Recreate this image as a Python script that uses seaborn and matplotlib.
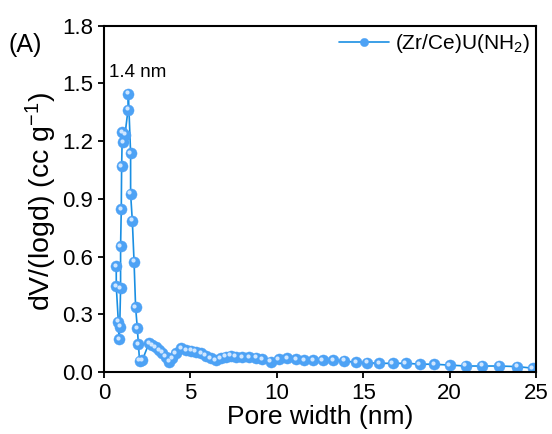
import matplotlib
matplotlib.use("Agg")
import matplotlib.pyplot as plt
import seaborn as sns
import pandas as pd

pore_width = [0.71, 0.71, 0.83, 0.87, 0.91, 0.96, 0.96, 1.00, 1.02, 1.06, 1.12, 1.215,
              1.39, 1.41, 1.54, 1.54, 1.64, 1.74, 1.83, 1.93, 1.99, 2.06, 2.22,
              2.60, 2.80, 2.99, 3.18, 3.38, 3.57, 3.76, 3.95, 4.15, 4.44, 4.73, 5.02,
              5.30, 5.60, 5.88, 6.17, 6.46, 6.75, 7.04, 7.33, 7.62, 8.00, 8.40, 8.78,
              9.16, 9.64, 10.10, 10.60, 11.10, 11.57, 12.10, 12.65, 13.25, 13.90, 14.60,
              15.24, 15.90, 16.70, 17.46, 18.27, 19.10, 20.00, 20.93, 21.86, 22.86,
              23.90, 24.80]
dv_logd = [0.550, 0.446, 0.261, 0.170, 0.235, 0.434, 0.654, 0.845, 1.068, 1.246, 1.195, 1.234,
           1.363, 1.446, 1.137, 0.927, 0.785, 0.572, 0.336, 0.226, 0.145, 0.057, 0.062,
           0.149, 0.140, 0.128, 0.114, 0.100, 0.080, 0.053, 0.071, 0.097, 0.123, 0.114, 0.110,
           0.105, 0.097, 0.083, 0.071, 0.062, 0.071, 0.080, 0.083, 0.080, 0.076, 0.076, 0.074,
           0.065, 0.053, 0.065, 0.071, 0.065, 0.062, 0.062, 0.062, 0.062, 0.057, 0.050,
           0.048, 0.045, 0.045, 0.045, 0.041, 0.040, 0.036, 0.031, 0.031, 0.031,
           0.028, 0.020]
series_label = "(Zr/Ce)U(NH$_2$)"
x_ticks = [0, 5, 10, 15, 20, 25]
y_ticks = [0.0, 0.3, 0.6, 0.9, 1.2, 1.5, 1.8]

df = pd.DataFrame({"x": pore_width, "y": dv_logd})

sns.set_theme(style="ticks")
plt.rcParams["font.family"] = ["Liberation Sans", "DejaVu Sans"]
plt.rcParams["mathtext.default"] = "regular"
plt.rcParams["text.color"] = "black"
plt.rcParams["axes.labelcolor"] = "black"
plt.rcParams["xtick.color"] = "black"
plt.rcParams["ytick.color"] = "black"

fig = plt.figure(figsize=(5.52, 4.34), dpi=100)
ax = fig.add_axes([0.1884, 0.1429, 0.7826, 0.798])

sns.lineplot(data=df, x="x", y="y", ax=ax, sort=False, estimator=None, color="#1a8fe3",
             lw=1.2, marker="o", markersize=8, markerfacecolor="#4da2f5",
             markeredgecolor="#4da2f5", markeredgewidth=0.3, label=series_label)
ax.plot(df["x"] - 0.07, df["y"] + 0.008, ls="none", marker="o", markersize=3,
        color="#cfe6ff", markeredgewidth=0)

ax.set_xlim(0, 25)
ax.set_ylim(0, 1.8)
ax.set_xticks(x_ticks)
ax.set_yticks(y_ticks)
ax.set_yticklabels([f"{v:.1f}" for v in y_ticks])
ax.tick_params(axis="both", labelsize=16, width=1.3, length=4, direction="out",
               color="black", labelcolor="black", pad=4)
for s in ax.spines.values():
    s.set_linewidth(1.5)
    s.set_color("black")
ax.set_xlabel("Pore width (nm)", fontsize=19, color="black")
ax.xaxis.set_label_coords(0.5, -0.094)
ax.set_ylabel("dV/(logd) (cc g$^{-1}$)", fontsize=20.5, color="black")
ax.yaxis.set_label_coords(-0.105, 0.493)

ax.text(0.3, 1.558, "1.4 nm", fontsize=13.5, ha="left", va="center", color="black")
fig.text(0.016, 0.897, "(A)", fontsize=18, ha="left", va="center", color="black")

leg = ax.legend(loc="upper right", frameon=False, fontsize=15, handlelength=2.4,
                borderaxespad=0.0, handletextpad=0.3, borderpad=0.3)
for t in leg.get_texts():
    t.set_color("black")
for h in leg.legend_handles:
    h.set_markersize(6)

fig.savefig("out.png", dpi=100)
